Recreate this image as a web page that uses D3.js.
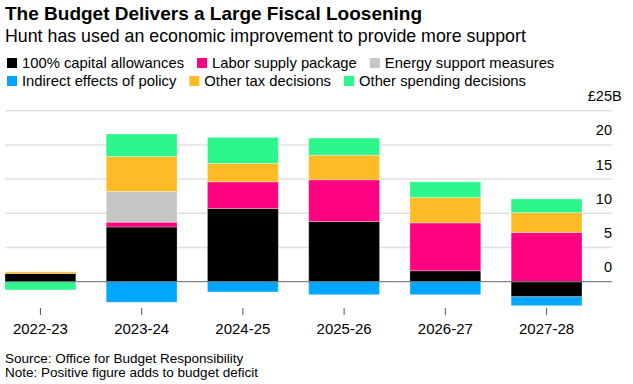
<!DOCTYPE html>
<html>
<head>
<meta charset="utf-8">
<script src="https://cdn.jsdelivr.net/npm/d3@7"></script>
<style>
  body { margin: 0; background: #fff; }
  text { font-family: "Liberation Sans", Arial, sans-serif; fill: #000; }
</style>
</head>
<body>
<script>
// categories and series (values in £B)
const years = ["2022-23", "2023-24", "2024-25", "2025-26", "2026-27", "2027-28"];
const seriesNames = ["100% capital allowances", "Labor supply package", "Energy support measures",
                     "Indirect effects of policy", "Other tax decisions", "Other spending decisions"];
const capital   = [1.2, 8.0, 10.7, 8.8, 1.6, -2.2];
const labor     = [0, 0.7, 3.9, 6.1, 7.0, 7.2];
const energy    = [0, 4.5, 0, 0, 0, 0];
const indirect  = [0, -3.0, -1.5, -1.9, -1.9, -1.3];
const otherTax  = [0.25, 5.1, 2.7, 3.6, 3.7, 2.9];
const otherSpend = [-1.2, 3.3, 3.8, 2.5, 2.3, 2.0];
const yTicks = [0, 5, 10, 15, 20, 25];

const colors = ["#000000", "#ff0080", "#c6c6c6", "#00a6ff", "#ffbb26", "#2cf68c"];
const values = [capital, labor, energy, indirect, otherTax, otherSpend];
// stacking order from baseline outward
const order = [0, 1, 2, 4, 5, 3];

const W = 633, H = 384;
const svg = d3.select("body").append("svg")
    .attr("width", W).attr("height", H);

// title
svg.append("text").attr("x", 5).attr("y", 20)
    .style("font-size", "19px").style("font-weight", "bold")
    .text("The Budget Delivers a Large Fiscal Loosening");
svg.append("text").attr("x", 5).attr("y", 42)
    .style("font-size", "17.8px")
    .text("Hunt has used an economic improvement to provide more support");

// legend
const legendRows = [[0, 1, 2], [3, 4, 5]];
legendRows.forEach(function(row, r) {
  let lx = 7;
  const ly = 68 + r * 18;
  row.forEach(function(i) {
    svg.append("rect").attr("x", lx).attr("y", ly - 10)
        .attr("width", 10).attr("height", 10).attr("fill", colors[i]);
    const t = svg.append("text").attr("x", lx + 15).attr("y", ly)
        .style("font-size", "14.8px").text(seriesNames[i]);
    lx += 15 + t.node().getComputedTextLength() + 13;
  });
});

// scales
const x = d3.scaleBand().domain(years).range([5, 582])
    .paddingInner(0.3).paddingOuter(0);
const y = d3.scaleLinear().domain([0, 25]).range([281.7, 110.7]);

// grid
svg.append("g").selectAll("line").data(yTicks.filter(d => d > 0)).join("line")
    .attr("x1", 5).attr("x2", 612)
    .attr("y1", d => y(d)).attr("y2", d => y(d))
    .attr("stroke", "#e0e0e0").attr("stroke-width", 1.5);

const yl = svg.append("g").selectAll("text").data(yTicks).join("text")
    .attr("x", 612).attr("y", d => y(d) - 9.5)
    .attr("text-anchor", "end").style("font-size", "14.5px")
    .text(d => d === 25 ? "£25" : d);
// unit suffix hangs past the number column
svg.append("text").attr("x", 612).attr("y", y(25) - 9.5)
    .style("font-size", "14.5px").text("B");

// stacked bars (positives up, negatives down)
const segs = [];
years.forEach(function(yr, j) {
  let pos = 0, neg = 0;
  order.forEach(function(i) {
    const v = values[i][j];
    if (!v) return;
    if (v > 0) { segs.push({yr: yr, i: i, y0: pos, y1: pos + v}); pos += v; }
    else { segs.push({yr: yr, i: i, y0: neg + v, y1: neg}); neg += v; }
  });
});

svg.append("g").selectAll("rect").data(segs).join("rect")
    .attr("x", d => x(d.yr))
    .attr("width", x.bandwidth())
    .attr("y", d => y(d.y1))
    .attr("height", d => y(d.y0) - y(d.y1))
    .attr("fill", d => colors[d.i])
    .attr("stroke", "rgba(255,255,255,0.3)").attr("stroke-width", 1);

// zero line
svg.append("line").attr("x1", 5).attr("x2", 612)
    .attr("y1", y(0)).attr("y2", y(0))
    .attr("stroke", "#666").attr("stroke-width", 1);

// x axis
const xa = svg.append("g");
xa.selectAll("line").data(years).join("line")
    .attr("x1", d => x(d) + x.bandwidth() / 2).attr("x2", d => x(d) + x.bandwidth() / 2)
    .attr("y1", 308).attr("y2", 315)
    .attr("stroke", "#555").attr("stroke-width", 1);
xa.selectAll("text").data(years).join("text")
    .attr("x", d => x(d) + x.bandwidth() / 2).attr("y", 334)
    .attr("text-anchor", "middle").style("font-size", "15px")
    .text(d => d);

// footer
svg.append("text").attr("x", 5).attr("y", 363).style("font-size", "13.5px")
    .text("Source: Office for Budget Responsibility");
svg.append("text").attr("x", 5).attr("y", 377).style("font-size", "13.5px")
    .text("Note: Positive figure adds to budget deficit");
</script>
</body>
</html>
